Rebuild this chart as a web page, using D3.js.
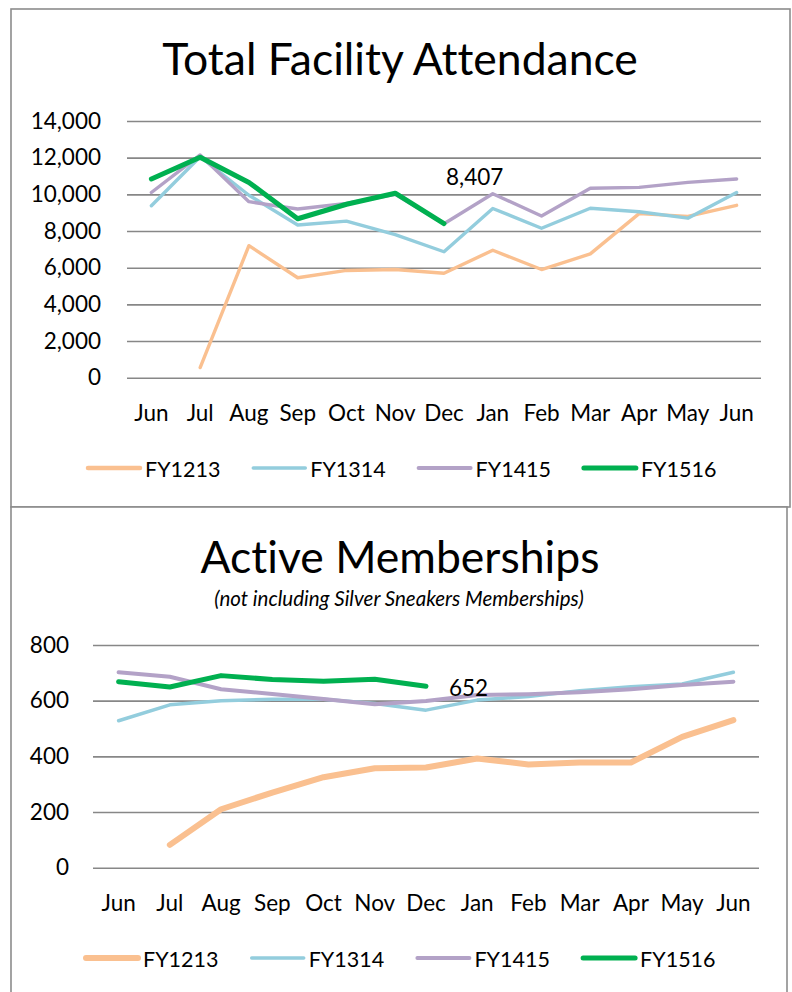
<!DOCTYPE html>
<html>
<head>
<meta charset="utf-8">
<script src="https://cdn.jsdelivr.net/npm/d3@7"></script>
<style>
	body { margin: 0; background: #fff; }
	svg { display: block; font-family: Lato, "Open Sans", sans-serif; }
	svg text { font-variant-ligatures: none; font-feature-settings: "liga" 0, "clig" 0; }
	.grid line { stroke: #878787; stroke-width: 1.6; }
	.grid path { display: none; }
</style>
</head>
<body>
<div id="chart"></div>
<script>
// month labels (fiscal year runs Jun..Jun)
const months = ['Jun', 'Jul', 'Aug', 'Sep', 'Oct', 'Nov', 'Dec', 'Jan', 'Feb', 'Mar', 'Apr', 'May', 'Jun'];
const seriesNames = ['FY1213', 'FY1314', 'FY1415', 'FY1516'];
const seriesColors = ['#FAC090', '#93CDDD', '#B3A2C7', '#00B050'];

// Total Facility Attendance
const attendTicks = [0, 2000, 4000, 6000, 8000, 10000, 12000, 14000];
const attendFY1213 = [null, 550, 7200, 5450, 5850, 5900, 5700, 6950, 5900, 6750, 8950, 8800, 9400];
const attendFY1314 = [9380, 12050, 9950, 8330, 8540, 7800, 6870, 9230, 8150, 9240, 9050, 8700, 10100];
const attendFY1415 = [10100, 12150, 9600, 9200, 9500, 10000, 8400, 10030, 8820, 10330, 10380, 10650, 10840];
const attendFY1516 = [10840, 12020, 10650, 8670, 9460, 10060, 8407, null, null, null, null, null, null];

// Active Memberships
const memberTicks = [0, 200, 400, 600, 800];
const memberFY1213 = [null, 82, 210, 270, 325, 357, 360, 392, 371, 378, 378, 470, 530];
const memberFY1314 = [528, 585, 600, 605, 605, 590, 566, 602, 615, 636, 650, 660, 702];
const memberFY1415 = [702, 686, 641, 624, 606, 587, 599, 620, 623, 630, 641, 656, 668];
const memberFY1516 = [668, 649, 690, 676, 670, 677, 652, null, null, null, null, null, null];

const W = 792, H = 992;
const svg = d3.select('#chart').append('svg')
	.attr('width', W)
	.attr('height', H);

/* draws one framed line chart; layout numbers live in cfg */
function drawChart(cfg) {
	const g = svg.append('g');

	g.append('rect')
		.attr('x', cfg.box[0]).attr('y', cfg.box[1])
		.attr('width', cfg.box[2] - cfg.box[0])
		.attr('height', cfg.box[3] - cfg.box[1])
		.attr('fill', '#fff')
		.attr('stroke', '#8c8c8c')
		.attr('stroke-width', 1.6);

	const x = d3.scaleBand()
		.domain(d3.range(months.length))
		.range([cfg.left, cfg.right])
		.padding(0);
	const cx = i => x(i) + x.bandwidth() / 2;

	const y = d3.scaleLinear()
		.domain([0, d3.max(cfg.ticks)])
		.range([cfg.bottom, cfg.top]);

	// gridlines + y labels
	const yAxis = d3.axisLeft(y)
		.tickValues(cfg.ticks)
		.tickFormat(d3.format(','))
		.tickSize(-(cfg.right - cfg.left))
		.tickPadding(cfg.yPad);
	const ya = g.append('g')
		.attr('class', 'grid')
		.attr('transform', `translate(${cfg.left},0)`)
		.call(yAxis);
	ya.selectAll('text')
		.attr('font-size', cfg.tickFont)
		.attr('fill', '#000')
		.attr('font-family', 'Lato, sans-serif');

	// x labels
	const xAxis = d3.axisBottom(x)
		.tickFormat(i => months[i])
		.tickSize(0)
		.tickPadding(cfg.xPad);
	const xa = g.append('g')
		.attr('transform', `translate(0,${cfg.bottom})`)
		.call(xAxis);
	xa.select('.domain').remove();
	xa.selectAll('text')
		.attr('font-size', cfg.tickFont)
		.attr('fill', '#000')
		.attr('font-family', 'Lato, sans-serif');

	const line = d3.line()
		.defined(d => d != null)
		.x((d, i) => cx(i))
		.y(d => y(d));

	cfg.series.forEach((vals, k) => {
		g.append('path')
			.datum(vals)
			.attr('d', line)
			.attr('fill', 'none')
			.attr('stroke', seriesColors[k])
			.attr('stroke-width', cfg.widths[k])
			.attr('stroke-linecap', 'round')
			.attr('stroke-linejoin', 'round');
	});

	// data label on last FY1516 point
	const last = cfg.series[3];
	const li = d3.max(d3.range(last.length).filter(i => last[i] != null));
	g.append('text')
		.attr('x', cx(li) + cfg.labelDx)
		.attr('y', y(last[li]) + cfg.labelDy)
		.attr('font-size', cfg.tickFont)
		.text(d3.format(',')(last[li]));

	// titles
	g.append('text')
		.attr('x', W / 2 + 4)
		.attr('y', cfg.titleY)
		.attr('text-anchor', 'middle')
		.attr('font-size', 44.5)
		.text(cfg.title);
	if (cfg.subtitle) {
		g.append('text')
			.attr('x', W / 2 + 3)
			.attr('y', cfg.subtitleY)
			.attr('text-anchor', 'middle')
			.attr('font-size', 20.5)
			.attr('font-style', 'italic')
			.text(cfg.subtitle);
	}

	// legend
	const leg = g.append('g');
	seriesNames.forEach((name, k) => {
		const lx = cfg.legendX + k * cfg.legendStep;
		leg.append('line')
			.attr('x1', lx).attr('x2', lx + 52)
			.attr('y1', cfg.legendY).attr('y2', cfg.legendY)
			.attr('stroke', seriesColors[k])
			.attr('stroke-width', cfg.legendWidths[k])
			.attr('stroke-linecap', 'round');
		leg.append('text')
			.attr('x', lx + 57)
			.attr('y', cfg.legendY + 9)
			.attr('font-size', 21.5)
			.text(name);
	});
}

drawChart({
	box: [11, 9, 790, 507],
	left: 127, right: 761, top: 121, bottom: 377.7,
	ticks: attendTicks,
	series: [attendFY1213, attendFY1314, attendFY1415, attendFY1516],
	widths: [3.4, 3.4, 3.4, 5],
	legendWidths: [4.5, 3.5, 4, 5],
	tickFont: 22.5, yPad: 26, xPad: 27,
	labelDx: 2, labelDy: -39,
	title: 'Total Facility Attendance', titleY: 75,
	legendX: 88, legendY: 468, legendStep: 165.3
});

drawChart({
	box: [11, 507, 787, 1010],
	left: 93, right: 759, top: 645, bottom: 867.7,
	ticks: memberTicks,
	series: [memberFY1213, memberFY1314, memberFY1415, memberFY1516],
	widths: [6, 3.5, 4, 5],
	legendWidths: [6, 3.5, 4, 5],
	tickFont: 22.5, yPad: 24, xPad: 27,
	labelDx: 23, labelDy: 10,
	title: 'Active Memberships', titleY: 573,
	subtitle: '(not including Silver Sneakers Memberships)', subtitleY: 606,
	legendX: 86, legendY: 958, legendStep: 165.7
});
</script>
</body>
</html>
